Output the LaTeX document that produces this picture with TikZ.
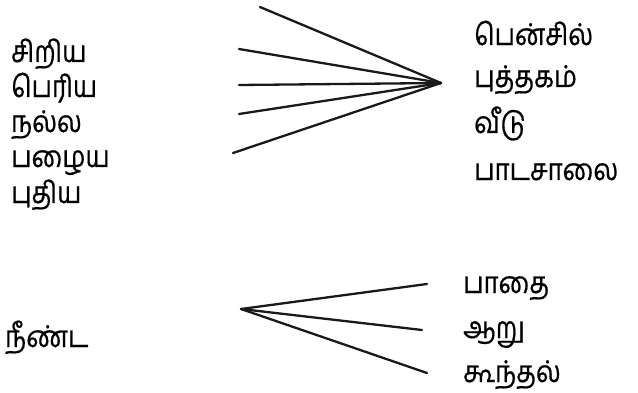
\documentclass[tikz,border=0pt]{standalone}
\usepackage{fontspec}
\newfontfamily\tamilfont[Script=Tamil,FakeStretch=0.86,FakeBold=0.6]{Hind Madurai}
\begin{document}
\begin{tikzpicture}[x=1pt,y=-1pt,
  word/.style={anchor=base west, inner sep=0pt, font=\tamilfont\fontsize{30}{36}\selectfont},
  link/.style={line width=2.3pt, line cap=round, color=black!90}]
\useasboundingbox (0,0) rectangle (638,393);
% left words
\node[word] (w1) at (11,62) {சிறிய};
\node[word] (w2) at (11,97) {பெரிய};
\node[word] (w3) at (11,132) {நல்ல};
\node[word] (w4) at (11,167) {பழைய};
\node[word] (w5) at (11,203) {புதிய};
% right words
\node[word] (r1) at (474,45) {பென்சில்};
\node[word] (r2) at (474,87) {புத்தகம்};
\node[word] (r3) at (474,133) {வீடு};
\node[word] (r4) at (474,180) {பாடசாலை};
% top fan
\coordinate (c1) at (441,83);
\coordinate (a1) at (260,7);
\coordinate (a2) at (239,49);
\coordinate (a3) at (239,85);
\coordinate (a4) at (239,114);
\coordinate (a5) at (233,153);
\foreach \i in {1,...,5} \draw[link] (a\i) -- (c1);
% bottom
\node[word] (n1) at (5,347) {நீண்ட};
\node[word] (b1) at (463,293) {பாதை};
\node[word] (b2) at (463,338) {ஆறு};
\node[word] (b3) at (463,382) {கூந்தல்};
\coordinate (c2) at (241,309);
\coordinate (e1) at (427,284);
\coordinate (e2) at (422,330);
\coordinate (e3) at (427,373);
\foreach \i in {1,2,3} \draw[link] (c2) -- (e\i);
\end{tikzpicture}
\end{document}
